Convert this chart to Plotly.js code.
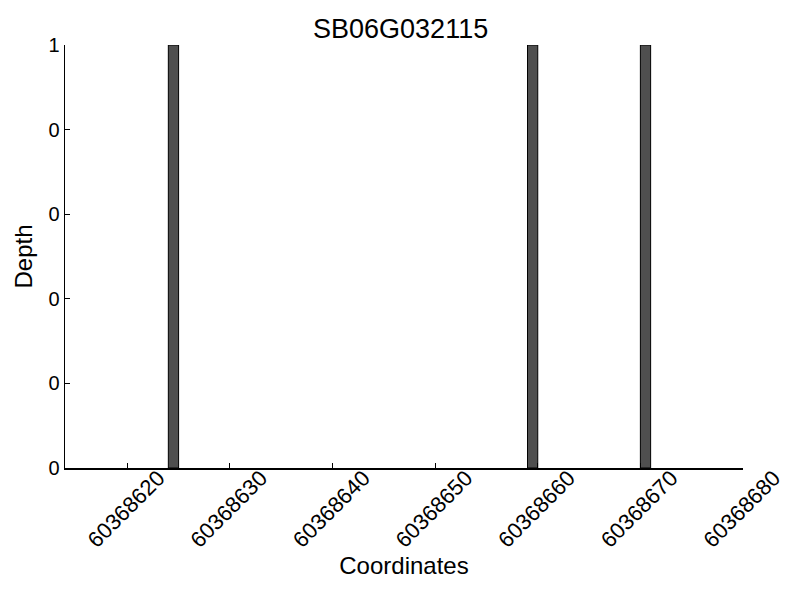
<!DOCTYPE html>
<html>
<head>
<meta charset="utf-8">
<script src="https://cdn.plot.ly/plotly-3.0.1.min.js"></script>
<style>html,body{margin:0;padding:0;background:#fff;}#chart{width:800px;height:600px;}</style>
</head>
<body>
<div id="chart"></div>
<script>
const positions = [60368624.5, 60368659.5, 60368670.5];
const depths = [1, 1, 1];
const xTickVals = [60368620, 60368630, 60368640, 60368650, 60368660, 60368670, 60368680];
const xTickText = ['60368620', '60368630', '60368640', '60368650', '60368660', '60368670', '60368680'];
const yTickVals = [0, 0.2, 0.4, 0.6, 0.8, 1];
const yTickText = ['0', '0', '0', '0', '0', '1'];

const font = 'Liberation Sans, Arial, sans-serif';
const trace = {
  type: 'bar',
  x: positions,
  y: depths,
  width: 1,
  marker: {color: '#4f4f4f', line: {color: '#000', width: 1}},
  hoverinfo: 'x+y'
};
const layout = {
  width: 800, height: 600,
  margin: {l: 65, r: 57, t: 45, b: 132},
  paper_bgcolor: '#fff', plot_bgcolor: '#fff',
  showlegend: false,
  font: {family: font, color: '#000'},
  title: {text: 'SB06G032115', x: 0.495, xref: 'paper', y: 0.953, yanchor: 'middle', font: {size: 27, family: font, color: '#000'}},
  xaxis: {
    range: [60368613.93, 60368680],
    tickvals: xTickVals, ticktext: xTickText,
    tickangle: -45,
    ticklabelshift: 31, ticklabelstandoff: -13,
    ticks: 'inside', ticklen: 5, tickcolor: '#000', tickwidth: 1,
    showline: true, linecolor: '#000', linewidth: 1.5,
    showgrid: false, zeroline: false,
    tickfont: {size: 22, family: font, color: '#000'},
    title: {text: 'Coordinates', font: {size: 24, family: font, color: '#000'}, standoff: 4}
  },
  yaxis: {
    range: [0, 1],
    tickvals: yTickVals, ticktext: yTickText,
    ticks: 'inside', ticklen: 5, tickcolor: '#000', tickwidth: 1,
    showline: true, linecolor: '#000', linewidth: 1.5,
    showgrid: false, zeroline: false,
    tickfont: {size: 20, family: font, color: '#000'},
    title: {text: 'Depth', font: {size: 24, family: font, color: '#000'}, standoff: 9}
  },
  bargap: 0
};
Plotly.newPlot('chart', [trace], layout, {displayModeBar: false, staticPlot: true});
</script>
</body>
</html>
